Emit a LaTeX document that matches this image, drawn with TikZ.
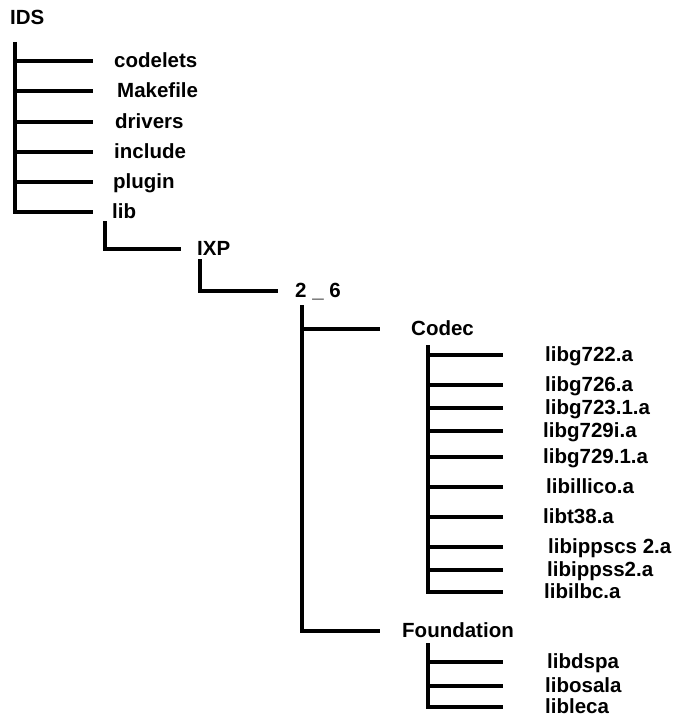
\documentclass[tikz,border=0pt]{standalone}
\usepackage{fontspec}
\setmainfont{Liberation Sans}
\begin{document}
\begin{tikzpicture}[x=1pt,y=-1pt,
  lbl/.style={anchor=west,inner sep=0pt,font=\bfseries\fontsize{20.5}{20.5}\selectfont,text height=15pt,text depth=2pt},
  conn/.style={line width=3.3pt,line join=miter}]
\useasboundingbox (0,0) rectangle (674,719);
% labels
\node[lbl] (ids) at (10,18) {IDS};
\node[lbl] (codelets) at (114,61) {codelets};
\node[lbl] (makefile) at (117,91) {Makefile};
\node[lbl] (drivers) at (115,122) {drivers};
\node[lbl] (include) at (114,152) {include};
\node[lbl] (plugin) at (113,182) {plugin};
\node[lbl] (lib) at (112,212) {lib};
\node[lbl] (ixp) at (197,249) {IXP};
\node[lbl] (v26) at (295,291) {2 \_ 6};
\node[lbl] (codec) at (411,329) {Codec};
\node[lbl] (foundation) at (402,631) {Foundation};
\node[lbl] (c1) at (545,355) {libg722.a};
\node[lbl] (c2) at (545,385) {libg726.a};
\node[lbl] (c3) at (545,408) {libg723.1.a};
\node[lbl] (c4) at (543,431) {libg729i.a};
\node[lbl] (c5) at (543,457) {libg729.1.a};
\node[lbl] (c6) at (546,487) {libillico.a};
\node[lbl] (c7) at (543,517) {libt38.a};
\node[lbl] (c8) at (548,547) {libippscs 2.a};
\node[lbl] (c9) at (547,570) {libippss2.a};
\node[lbl] (c10) at (544,592) {libilbc.a};
\node[lbl] (f1) at (547,662) {libdspa};
\node[lbl] (f2) at (545,686) {libosala};
\node[lbl] (f3) at (545,707) {libleca};
% trunk tops and line ends
\coordinate (t0) at (15,42);   \coordinate (e0) at (93,0);
\coordinate (t1) at (105,221); \coordinate (e1) at (181,0);
\coordinate (t2) at (200,259); \coordinate (e2) at (278,0);
\coordinate (t3) at (302,305); \coordinate (e3) at (380,0);
\coordinate (t4) at (428,345); \coordinate (e4) at (503,0);
\coordinate (t5) at (428,643); \coordinate (e5) at (503,0);
% IDS
\draw[conn] (t0) |- (e0 |- lib.west);
\foreach \n in {codelets,makefile,drivers,include,plugin}
  \draw[conn] (t0 |- \n.west) -- (e0 |- \n.west);
% lib -> IXP
\draw[conn] (t1) |- (e1 |- ixp.west);
% IXP -> 2_6
\draw[conn] (t2) |- (e2 |- v26.west);
% 2_6 -> Codec, Foundation
\draw[conn] (t3) |- (e3 |- foundation.west);
\draw[conn] (t3 |- codec.west) -- (e3 |- codec.west);
% Codec children
\draw[conn] (t4) |- (e4 |- c10.west);
\foreach \n in {c1,c2,c3,c4,c5,c6,c7,c8,c9}
  \draw[conn] (t4 |- \n.west) -- (e4 |- \n.west);
% Foundation children
\draw[conn] (t5) |- (e5 |- f3.west);
\foreach \n in {f1,f2}
  \draw[conn] (t5 |- \n.west) -- (e5 |- \n.west);
\end{tikzpicture}
\end{document}
